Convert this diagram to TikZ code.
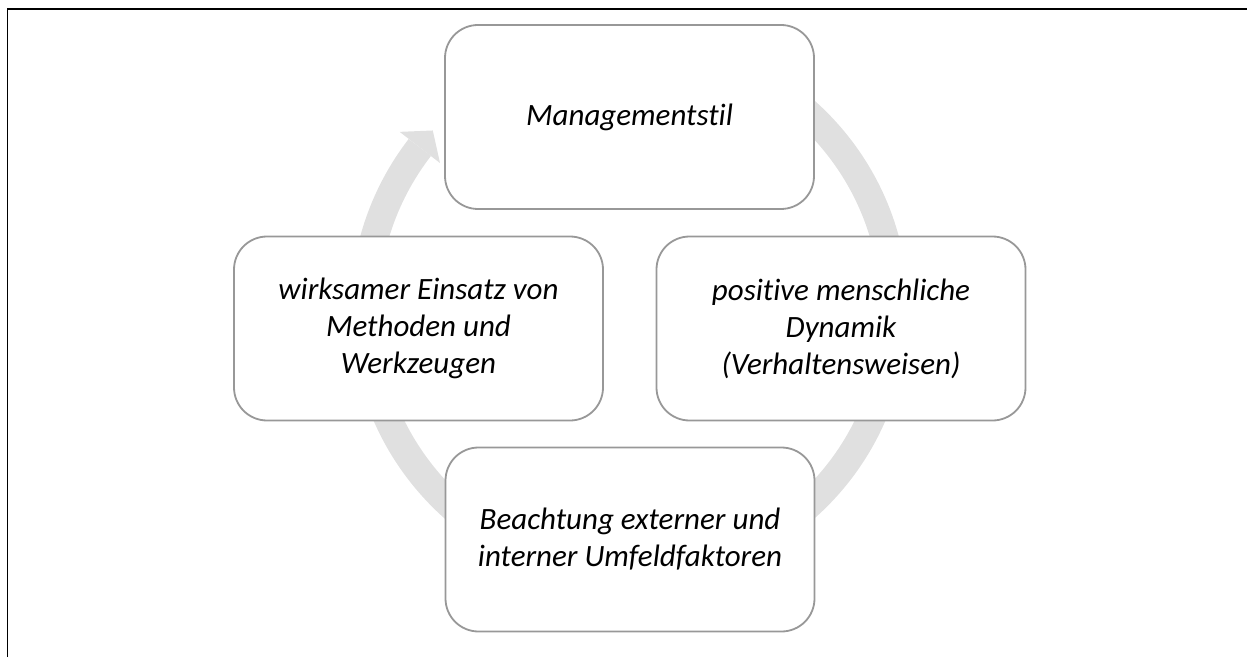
\documentclass[tikz,border=0pt]{standalone}
\usepackage{fontspec}
\setmainfont{Carlito}[Ligatures=NoCommon]
\usetikzlibrary{calc}
\definecolor{ringgray}{RGB}{224,224,224}
\definecolor{boxgray}{RGB}{152,152,152}
\tikzset{
  cyclebox/.style={draw=boxgray, line width=1.8pt, fill=white,
    rounded corners=33pt, minimum width=369pt, minimum height=184pt,
    inner sep=0pt, align=center,
    font=\fontsize{31}{37}\selectfont\itshape},
  framerule/.style={draw=black, line width=1.8pt}
}
\begin{document}
\begin{tikzpicture}[x=1pt,y=1pt]
\useasboundingbox (0,0) rectangle (1247,657);

% frame lines (top and left)
\coordinate (fl) at (7.5,0);
\coordinate (fc) at (7.5,648);
\coordinate (fr) at (1247,648);
\draw[framerule] (fl) -- (fc) -- (fr);

% circular arrow behind the boxes
\coordinate (ringc) at (629.5,347.5);
\draw[ringgray, line width=28pt] ($(ringc)+(130:265pt)$)
  arc[start angle=130, end angle=-217.7, radius=265pt];
\fill[ringgray] ($(ringc)+(142.3:239.5pt)$) -- ($(ringc)+(137.7:266pt)$)
  -- ($(ringc)+(142.3:290.5pt)$) -- cycle;

% the four steps
\node[cyclebox] (mgmt) at (629.5,540) {Managementstil};
\node[cyclebox] (dyn) at (841,328.5) {positive menschliche\\Dynamik\\(Verhaltensweisen)};
\node[cyclebox] (umf) at (630,117.5) {Beachtung externer und\\interner Umfeldfaktoren};
\node[cyclebox] (meth) at (418.5,328.5) {wirksamer Einsatz von\\Methoden und\\Werkzeugen};
\end{tikzpicture}
\end{document}
